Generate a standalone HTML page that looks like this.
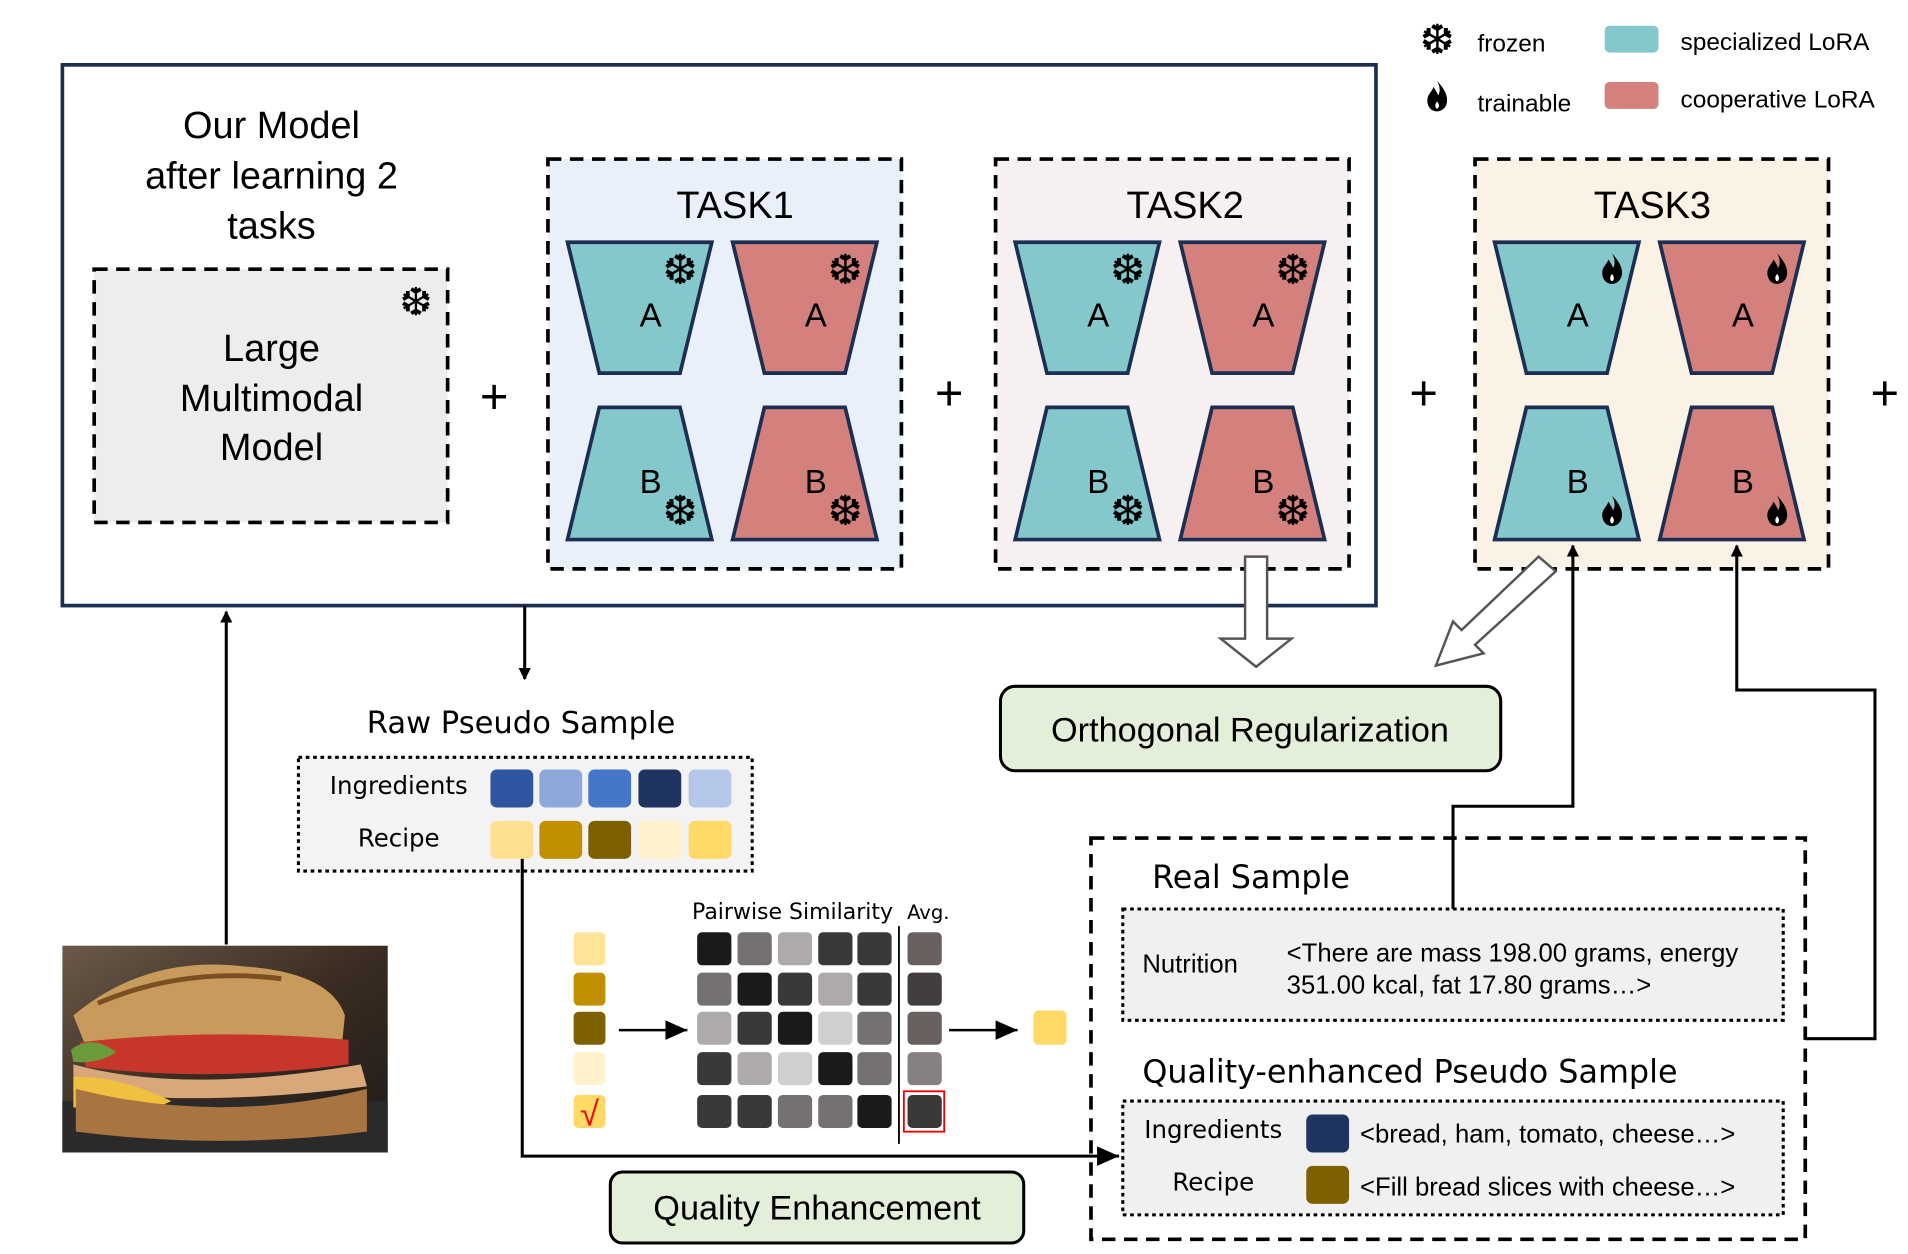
<!DOCTYPE html>
<html><head><meta charset="utf-8"><style>
html,body{margin:0;padding:0;background:#fff;}
svg{display:block;}
text{font-family:"Liberation Sans","DejaVu Sans",sans-serif;fill:#000;}
.cal{font-family:"DejaVu Sans","Liberation Sans",sans-serif;}
</style></head><body>
<svg width="1908" height="1254" viewBox="0 0 1560 1025" preserveAspectRatio="none" xmlns="http://www.w3.org/2000/svg">
<defs>
<marker id="ah" markerWidth="10" markerHeight="10" refX="9" refY="5" orient="auto" markerUnits="userSpaceOnUse"><path d="M0,0 L10,5 L0,10 z" fill="#000"/></marker>
<marker id="ahb" markerWidth="20" markerHeight="20" refX="18" refY="10" orient="auto" markerUnits="userSpaceOnUse"><path d="M0,2 L18,10 L0,18 z" fill="#000"/></marker>
<g id="flame"><path d="M0,-13 C6,-6 9,-1 8,5 C7,10 3,12 0,12 C-5,12 -8,8 -8,3 C-8,-2 -4,-4 -3,-8 C-1,-5 0,-3 1,-1 C3,-5 2,-9 0,-13 z" fill="#000"/><path d="M0,4 C2,6 2,9 0,10 C-2,9 -2,6 0,4z" fill="#fff"/></g>
<g id="lora">
 <polygon points="16,68 134,68 108,175 42,175" fill="#85c8cc" stroke="#1c2e52" stroke-width="3"/>
 <polygon points="151,68 269,68 243,175 177,175" fill="#d4807c" stroke="#1c2e52" stroke-width="3"/>
 <polygon points="42,203 108,203 134,311 16,311" fill="#85c8cc" stroke="#1c2e52" stroke-width="3"/>
 <polygon points="177,203 243,203 269,311 151,311" fill="#d4807c" stroke="#1c2e52" stroke-width="3"/>
 <text x="84" y="137" font-size="27" text-anchor="middle">A</text>
 <text x="219" y="137" font-size="27" text-anchor="middle">A</text>
 <text x="84" y="273" font-size="27" text-anchor="middle">B</text>
 <text x="219" y="273" font-size="27" text-anchor="middle">B</text>
</g>
<g id="snows">
 <text class="cal" x="108" y="102" font-size="34" text-anchor="middle">❆</text>
 <text class="cal" x="243" y="102" font-size="34" text-anchor="middle">❆</text>
 <text class="cal" x="108" y="299" font-size="34" text-anchor="middle">❆</text>
 <text class="cal" x="243" y="299" font-size="34" text-anchor="middle">❆</text>
</g>
</defs>

<!-- legend -->
<text class="cal" x="1175" y="44" font-size="34" text-anchor="middle">❆</text>
<text x="1208" y="42" font-size="20">frozen</text>
<rect x="1312" y="21" width="44" height="22" rx="4" fill="#85c8cc"/>
<text x="1374" y="41" font-size="20">specialized LoRA</text>
<use href="#flame" x="1175" y="79"/>
<text x="1208" y="91" font-size="20">trainable</text>
<rect x="1312" y="67" width="44" height="22" rx="4" fill="#d4807c"/>
<text x="1374" y="88" font-size="20">cooperative LoRA</text>

<!-- main box -->
<rect x="51" y="53" width="1074" height="442" fill="none" stroke="#1c2e52" stroke-width="3"/>
<text x="222" y="113" font-size="31" text-anchor="middle">Our Model</text>
<text x="222" y="154" font-size="31" text-anchor="middle">after learning 2</text>
<text x="222" y="195" font-size="31" text-anchor="middle">tasks</text>
<rect x="77" y="220" width="289" height="207" fill="#ededed" stroke="#000" stroke-width="3" stroke-dasharray="11,7"/>
<text class="cal" x="340" y="258" font-size="32" text-anchor="middle">❆</text>
<text x="222" y="295" font-size="31" text-anchor="middle">Large</text>
<text x="222" y="336" font-size="31" text-anchor="middle">Multimodal</text>
<text x="222" y="376" font-size="31" text-anchor="middle">Model</text>
<text x="404" y="338" font-size="40" text-anchor="middle">+</text>
<text x="776" y="335" font-size="40" text-anchor="middle">+</text>
<text x="1164" y="335" font-size="40" text-anchor="middle">+</text>
<text x="1541" y="335" font-size="40" text-anchor="middle">+</text>

<!-- tasks -->
<rect x="448" y="130" width="289" height="335" fill="#eaf0fa" stroke="#000" stroke-width="3" stroke-dasharray="11,7"/>
<text x="601" y="178" font-size="31" text-anchor="middle">TASK1</text>
<g transform="translate(448,130)"><use href="#lora"/><use href="#snows"/></g>

<rect x="814" y="130" width="289" height="335" fill="#f6f0f0" stroke="#000" stroke-width="3" stroke-dasharray="11,7"/>
<text x="969" y="178" font-size="31" text-anchor="middle">TASK2</text>
<g transform="translate(814,130)"><use href="#lora"/><use href="#snows"/></g>

<rect x="1206" y="130" width="289" height="335" fill="#faf2e4" stroke="#000" stroke-width="3" stroke-dasharray="11,7"/>
<text x="1351" y="178" font-size="31" text-anchor="middle">TASK3</text>
<g transform="translate(1206,130)"><use href="#lora"/>
<use href="#flame" x="112" y="90"/><use href="#flame" x="247" y="90"/><use href="#flame" x="112" y="288"/><use href="#flame" x="247" y="288"/></g>

<!-- hollow arrows -->
<polygon points="1018,455 1036,455 1036,522 1056,522 1027,545 998,522 1018,522" fill="#fff" stroke="#555" stroke-width="2"/>
<polygon points="1258,455 1272,467 1206,527 1213,534 1174,544 1188,508 1195,515" fill="#fff" stroke="#555" stroke-width="2"/>

<rect x="818" y="561" width="409" height="69" rx="12" fill="#e4efd9" stroke="#000" stroke-width="2.5"/>
<text x="1022" y="606" font-size="28" text-anchor="middle">Orthogonal Regularization</text>

<line x1="429" y1="495" x2="429" y2="555" stroke="#000" stroke-width="2.5" marker-end="url(#ah)"/>
<line x1="185" y1="772" x2="185" y2="500" stroke="#000" stroke-width="2.5" marker-end="url(#ah)"/>

<!-- Raw pseudo sample -->
<text class="cal" x="426" y="599" font-size="25" text-anchor="middle">Raw Pseudo Sample</text>
<rect x="244" y="619" width="371" height="93" fill="#f3f3f3" stroke="#000" stroke-width="2.5" stroke-dasharray="3,3"/>
<text class="cal" x="326" y="649" font-size="20" text-anchor="middle">Ingredients</text>
<text class="cal" x="326" y="692" font-size="20" text-anchor="middle">Recipe</text>
<rect x="401" y="629" width="35" height="31" rx="5" fill="#2e56a0"/>
<rect x="441" y="629" width="35" height="31" rx="5" fill="#8fa8dc"/>
<rect x="481" y="629" width="35" height="31" rx="5" fill="#4676c8"/>
<rect x="522" y="629" width="35" height="31" rx="5" fill="#1f3460"/>
<rect x="563" y="629" width="35" height="31" rx="5" fill="#b4c7e8"/>
<rect x="401" y="671" width="35" height="31" rx="5" fill="#ffe090"/>
<rect x="441" y="671" width="35" height="31" rx="5" fill="#c09000"/>
<rect x="481" y="671" width="35" height="31" rx="5" fill="#7f6000"/>
<rect x="522" y="671" width="35" height="31" rx="5" fill="#fff2cc"/>
<rect x="563" y="671" width="35" height="31" rx="5" fill="#ffd966"/>
<polyline points="427,702 427,945 915,945" fill="none" stroke="#000" stroke-width="2.5" marker-end="url(#ahb)"/>

<!-- similarity -->
<text class="cal" x="648" y="751" font-size="18" text-anchor="middle">Pairwise Similarity</text>
<text class="cal" x="759" y="751" font-size="16" text-anchor="middle">Avg.</text>
<g>
<rect x="469" y="762" width="26" height="27" rx="4" fill="#ffe497"/>
<rect x="469" y="795" width="26" height="27" rx="4" fill="#c09000"/>
<rect x="469" y="827" width="26" height="27" rx="4" fill="#7f6000"/>
<rect x="469" y="860" width="26" height="27" rx="4" fill="#fff2cc"/>
<rect x="469" y="895" width="26" height="27" rx="4" fill="#ffd966"/>
<text x="482" y="920" font-size="28" text-anchor="middle" style="fill:#f00">√</text>
</g>
<line x1="506" y1="842" x2="562" y2="842" stroke="#000" stroke-width="2" marker-end="url(#ahb)"/>
<g>
<rect x="570" y="762" width="28" height="27" rx="4" fill="#1a1a1a"/><rect x="603" y="762" width="28" height="27" rx="4" fill="#767171"/><rect x="636" y="762" width="28" height="27" rx="4" fill="#aeaaaa"/><rect x="669" y="762" width="28" height="27" rx="4" fill="#3b3838"/><rect x="701" y="762" width="28" height="27" rx="4" fill="#3b3838"/>
<rect x="570" y="795" width="28" height="27" rx="4" fill="#767171"/><rect x="603" y="795" width="28" height="27" rx="4" fill="#1a1a1a"/><rect x="636" y="795" width="28" height="27" rx="4" fill="#3b3838"/><rect x="669" y="795" width="28" height="27" rx="4" fill="#aeaaaa"/><rect x="701" y="795" width="28" height="27" rx="4" fill="#3b3838"/>
<rect x="570" y="827" width="28" height="27" rx="4" fill="#aeaaaa"/><rect x="603" y="827" width="28" height="27" rx="4" fill="#3b3838"/><rect x="636" y="827" width="28" height="27" rx="4" fill="#1a1a1a"/><rect x="669" y="827" width="28" height="27" rx="4" fill="#d0cece"/><rect x="701" y="827" width="28" height="27" rx="4" fill="#767171"/>
<rect x="570" y="860" width="28" height="27" rx="4" fill="#3b3838"/><rect x="603" y="860" width="28" height="27" rx="4" fill="#aeaaaa"/><rect x="636" y="860" width="28" height="27" rx="4" fill="#d0cece"/><rect x="669" y="860" width="28" height="27" rx="4" fill="#1a1a1a"/><rect x="701" y="860" width="28" height="27" rx="4" fill="#767171"/>
<rect x="570" y="895" width="28" height="27" rx="4" fill="#3b3838"/><rect x="603" y="895" width="28" height="27" rx="4" fill="#3b3838"/><rect x="636" y="895" width="28" height="27" rx="4" fill="#767171"/><rect x="669" y="895" width="28" height="27" rx="4" fill="#767171"/><rect x="701" y="895" width="28" height="27" rx="4" fill="#1a1a1a"/>
<line x1="735" y1="757" x2="735" y2="935" stroke="#000" stroke-width="1.5"/>
<rect x="742" y="762" width="28" height="27" rx="4" fill="#67605f"/>
<rect x="742" y="795" width="28" height="27" rx="4" fill="#433d3d"/>
<rect x="742" y="827" width="28" height="27" rx="4" fill="#67605f"/>
<rect x="742" y="860" width="28" height="27" rx="4" fill="#878080"/>
<rect x="742" y="895" width="28" height="27" rx="4" fill="#3b3838"/>
<rect x="739" y="892" width="33" height="33" fill="none" stroke="#e00" stroke-width="1.5"/>
</g>
<line x1="776" y1="842" x2="832" y2="842" stroke="#000" stroke-width="2" marker-end="url(#ahb)"/>
<rect x="845" y="826" width="27" height="28" rx="4" fill="#ffd966"/>

<rect x="499" y="958" width="338" height="58" rx="10" fill="#e4efd9" stroke="#000" stroke-width="2.5"/>
<text x="668" y="997" font-size="28" text-anchor="middle">Quality Enhancement</text>

<!-- real sample region -->
<rect x="892" y="685" width="584" height="328" fill="none" stroke="#000" stroke-width="3" stroke-dasharray="11,7"/>
<text class="cal" x="942" y="726" font-size="26">Real Sample</text>
<rect x="918" y="743" width="540" height="91" fill="#f0f0f0" stroke="#000" stroke-width="2.5" stroke-dasharray="3,3"/>
<text x="934" y="795" font-size="21">Nutrition</text>
<text x="1052" y="786" font-size="21">&lt;There are mass 198.00 grams, energy</text>
<text x="1052" y="812" font-size="21">351.00 kcal, fat 17.80 grams…&gt;</text>
<text class="cal" x="934" y="885" font-size="26">Quality-enhanced Pseudo Sample</text>
<rect x="918" y="900" width="540" height="93" fill="#f0f0f0" stroke="#000" stroke-width="2.5" stroke-dasharray="3,3"/>
<text class="cal" x="992" y="930" font-size="20" text-anchor="middle">Ingredients</text>
<text class="cal" x="992" y="973" font-size="20" text-anchor="middle">Recipe</text>
<rect x="1068" y="911" width="35" height="31" rx="5" fill="#1f3460"/>
<rect x="1068" y="953" width="35" height="31" rx="5" fill="#7f6000"/>
<text x="1112" y="934" font-size="21">&lt;bread, ham, tomato, cheese…&gt;</text>
<text x="1112" y="977" font-size="21">&lt;Fill bread slices with cheese…&gt;</text>

<polyline points="1188,743 1188,659 1286,659 1286,446" fill="none" stroke="#000" stroke-width="2.5" marker-end="url(#ah)"/>
<polyline points="1476,849 1533,849 1533,564 1420,564 1420,446" fill="none" stroke="#000" stroke-width="2.5" marker-end="url(#ah)"/>

<!-- food image -->
<defs><linearGradient id="bg" x1="0" y1="0" x2="1" y2="1"><stop offset="0" stop-color="#6b5a4a"/><stop offset="0.5" stop-color="#3a2c22"/><stop offset="1" stop-color="#1d1a18"/></linearGradient></defs>
<rect x="51" y="773" width="266" height="169" fill="url(#bg)"/>
<rect x="51" y="900" width="266" height="42" fill="#2a2a2a"/>
<path d="M60,830 Q120,780 200,790 Q270,795 282,830 L280,850 Q200,860 70,855 z" fill="#c89a5c"/>
<path d="M80,820 Q150,790 230,800" stroke="#7a4f22" stroke-width="4" fill="none"/>
<path d="M65,852 Q170,840 285,850 L285,870 Q170,885 70,872 z" fill="#c8352a"/>
<path d="M60,870 Q150,895 295,870 L300,888 Q170,905 60,892 z" fill="#d9a87a"/>
<path d="M60,880 Q100,880 140,900 Q110,915 60,905 z" fill="#f0c040"/>
<path d="M62,890 Q180,920 300,890 L300,925 Q180,940 62,925 z" fill="#a87440"/>
<path d="M58,858 Q75,845 95,860 Q80,870 60,868z" fill="#6a9a3a"/>
</svg>
</body></html>
